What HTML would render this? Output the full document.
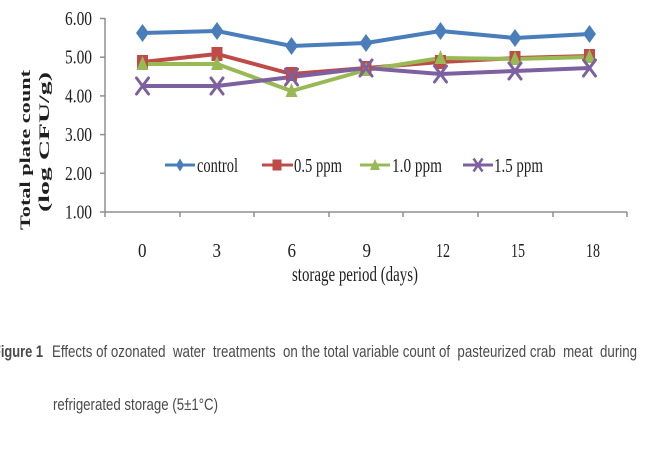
<!DOCTYPE html>
<html>
<head>
<meta charset="utf-8">
<style>
  html,body{margin:0;padding:0;background:#fff;}
  svg{display:block;}
  .t{font-family:"Liberation Serif","DejaVu Serif",serif;fill:#1e1e1e;}
  .c{font-family:"Liberation Sans","DejaVu Sans",sans-serif;fill:#4a4a4a;white-space:pre;}
</style>
</head>
<body>
<svg width="650" height="450" viewBox="0 0 650 450" xmlns="http://www.w3.org/2000/svg">
  <rect width="650" height="450" fill="#fff"/>

  <!-- axes -->
  <g stroke="#8f8f8f" stroke-width="1.5" fill="none">
    <line x1="105" y1="18" x2="105" y2="212"/>
    <line x1="105" y1="212" x2="627" y2="212"/>
    <line x1="100" y1="18.5" x2="105" y2="18.5"/>
    <line x1="100" y1="57.2" x2="105" y2="57.2"/>
    <line x1="100" y1="95.9" x2="105" y2="95.9"/>
    <line x1="100" y1="134.6" x2="105" y2="134.6"/>
    <line x1="100" y1="173.3" x2="105" y2="173.3"/>
    <line x1="100" y1="212" x2="105" y2="212"/>
    <line x1="105" y1="212" x2="105" y2="217"/>
    <line x1="180" y1="212" x2="180" y2="217"/>
    <line x1="254" y1="212" x2="254" y2="217"/>
    <line x1="329" y1="212" x2="329" y2="217"/>
    <line x1="403" y1="212" x2="403" y2="217"/>
    <line x1="478" y1="212" x2="478" y2="217"/>
    <line x1="553" y1="212" x2="553" y2="217"/>
    <line x1="627" y1="212" x2="627" y2="217"/>
  </g>

  <!-- y tick labels -->
  <g class="t" font-size="20">
    <text x="65" y="25" textLength="27" lengthAdjust="spacingAndGlyphs">6.00</text>
    <text x="65" y="63.7" textLength="27" lengthAdjust="spacingAndGlyphs">5.00</text>
    <text x="65" y="102.4" textLength="27" lengthAdjust="spacingAndGlyphs">4.00</text>
    <text x="65" y="141.1" textLength="27" lengthAdjust="spacingAndGlyphs">3.00</text>
    <text x="65" y="179.8" textLength="27" lengthAdjust="spacingAndGlyphs">2.00</text>
    <text x="65" y="218.5" textLength="27" lengthAdjust="spacingAndGlyphs">1.00</text>
  </g>

  <!-- x tick labels -->
  <g class="t" font-size="20">
    <text x="138" y="257" textLength="8.5" lengthAdjust="spacingAndGlyphs">0</text>
    <text x="212.5" y="257" textLength="8.5" lengthAdjust="spacingAndGlyphs">3</text>
    <text x="287.5" y="257" textLength="8.5" lengthAdjust="spacingAndGlyphs">6</text>
    <text x="362.5" y="257" textLength="8.5" lengthAdjust="spacingAndGlyphs">9</text>
    <text x="436" y="257" textLength="14" lengthAdjust="spacingAndGlyphs">12</text>
    <text x="511" y="257" textLength="14" lengthAdjust="spacingAndGlyphs">15</text>
    <text x="586" y="257" textLength="14" lengthAdjust="spacingAndGlyphs">18</text>
  </g>

  <text class="t" x="292" y="281" font-size="21" textLength="126" lengthAdjust="spacingAndGlyphs">storage period (days)</text>

  <text class="t" font-weight="bold" font-size="21" transform="translate(30,230) rotate(-90) scale(1,0.72)" x="0" y="0" textLength="160" lengthAdjust="spacingAndGlyphs">Total plate count</text>
  <text class="t" font-weight="bold" font-size="21" transform="translate(49,212) rotate(-90) scale(1,0.72)" x="0" y="0" textLength="140" lengthAdjust="spacingAndGlyphs">(log CFU/g)</text>

  <g fill="none" stroke-width="4" stroke-linejoin="round" stroke-linecap="round">
    <polyline stroke="#4A7EBB" points="142.5,33 217,31 291.5,46 366,43 440.5,31 515,38 589.5,34"/>
    <polyline stroke="#BE4B48" points="142.5,62 217,54 291.5,74 366,68 440.5,62 515,58 589.5,56"/>
    <polyline stroke="#98B954" points="142.5,64 217,64 291.5,91 366,70 440.5,58 515,59 589.5,57"/>
    <polyline stroke="#7D60A0" points="142.5,86 217,86 291.5,77 366,68 440.5,74 515,71 589.5,68"/>
  </g>

  <g fill="#4A7EBB">
    <polygon points="142.5,24 149,33 142.5,42 136,33"/>
    <polygon points="217,22 223.5,31 217,40 210.5,31"/>
    <polygon points="291.5,37 298,46 291.5,55 285,46"/>
    <polygon points="366,34 372.5,43 366,52 359.5,43"/>
    <polygon points="440.5,22 447,31 440.5,40 434,31"/>
    <polygon points="515,29 521.5,38 515,47 508.5,38"/>
    <polygon points="589.5,25 596,34 589.5,43 583,34"/>
  </g>
  <g fill="#BE4B48">
    <rect x="137" y="55" width="11" height="14"/>
    <rect x="211.5" y="47" width="11" height="14"/>
    <rect x="286" y="67" width="11" height="14"/>
    <rect x="360.5" y="61" width="11" height="14"/>
    <rect x="435" y="55" width="11" height="14"/>
    <rect x="509.5" y="51" width="11" height="14"/>
    <rect x="584" y="49" width="11" height="14"/>
  </g>
  <g fill="#98B954">
    <polygon points="142.5,56 148.5,70 136.5,70"/>
    <polygon points="217,56 223,70 211,70"/>
    <polygon points="291.5,83 297.5,97 285.5,97"/>
    <polygon points="366,62 372,76 360,76"/>
    <polygon points="440.5,50 446.5,64 434.5,64"/>
    <polygon points="515,51 521,65 509,65"/>
    <polygon points="589.5,49 595.5,63 583.5,63"/>
  </g>
  <g stroke="#7D60A0" stroke-width="3" stroke-linecap="round">
    <path d="M136.5,78 L148.5,94 M148.5,78 L136.5,94"/>
    <path d="M211,78 L223,94 M223,78 L211,94"/>
    <path d="M285.5,69 L297.5,85 M297.5,69 L285.5,85"/>
    <path d="M360,60 L372,76 M372,60 L360,76"/>
    <path d="M434.5,66 L446.5,82 M446.5,66 L434.5,82"/>
    <path d="M509,63 L521,79 M521,63 L509,79"/>
    <path d="M583.5,60 L595.5,76 M595.5,60 L583.5,76"/>
  </g>

  <g stroke-width="3" fill="none">
    <line x1="165" y1="165" x2="195" y2="165" stroke="#4A7EBB"/>
    <line x1="262" y1="165" x2="293" y2="165" stroke="#BE4B48"/>
    <line x1="360" y1="165" x2="390" y2="165" stroke="#98B954"/>
    <line x1="463" y1="165" x2="493" y2="165" stroke="#7D60A0"/>
  </g>
  <polygon points="180,158.5 184,165 180,171.5 176,165" fill="#4A7EBB"/>
  <rect x="272.5" y="159.5" width="9" height="11" fill="#BE4B48"/>
  <polygon points="375,159 380,170 370,170" fill="#98B954"/>
  <path d="M473.5,158.5 L482.5,171.5 M482.5,158.5 L473.5,171.5" stroke="#7D60A0" stroke-width="2.5"/>
  <g class="t" font-size="20">
    <text x="197" y="172" textLength="41" lengthAdjust="spacingAndGlyphs">control</text>
    <text x="294" y="172" textLength="48" lengthAdjust="spacingAndGlyphs">0.5 ppm</text>
    <text x="392" y="172" textLength="50" lengthAdjust="spacingAndGlyphs">1.0 ppm</text>
    <text x="494" y="172" textLength="49" lengthAdjust="spacingAndGlyphs">1.5 ppm</text>
  </g>

  <text class="c" x="-7" y="357" font-size="16.5" font-weight="bold" textLength="50" lengthAdjust="spacingAndGlyphs">Figure 1</text>
  <text class="c" x="52" y="357" font-size="16.5" textLength="585" lengthAdjust="spacingAndGlyphs">Effects of ozonated  water  treatments  on the total variable count of  pasteurized crab  meat  during</text>
  <text class="c" x="53" y="410" font-size="16.5" textLength="165" lengthAdjust="spacingAndGlyphs">refrigerated storage (5±1°C)</text>
</svg>
</body>
</html>
